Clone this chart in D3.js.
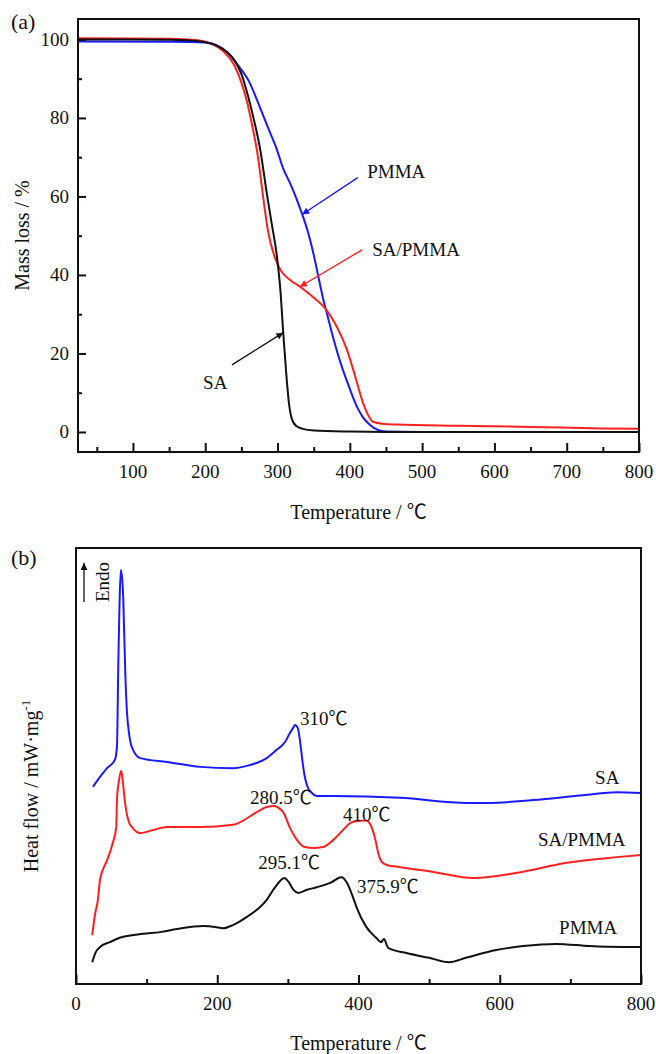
<!DOCTYPE html>
<html>
<head>
<meta charset="utf-8">
<script src="https://cdn.jsdelivr.net/npm/d3@7"></script>
<style>
  html, body { margin: 0; padding: 0; background: #fff; }
  svg text { font-family: "Liberation Serif", "Times New Roman", "Noto Sans CJK SC", serif; fill: #111; }
</style>
</head>
<body>
<svg id="fig" width="656" height="1054"></svg>
<script>
// ---------- (a) TG: mass loss (%) vs temperature (°C) ----------
const tgSA = [[24,100],[100,100],[150,99.9],[180,99.7],[200,99.3],[215,98.5],[230,96.8],[240,94.8],[250,91.2],[260,85],[268,79],[276,72],[285,61],[292,53],[299,45],[304,36],[308,25],[312,15],[316,7],[320,3.2],[326,1.5],[335,0.8],[350,0.4],[400,0.1],[450,0],[800,0]];
const tgSAPMMA = [[24,100.3],[150,100.2],[190,99.8],[210,98.8],[225,97],[240,93.5],[250,89],[258,84],[265,78],[273,70],[280,60],[287,51],[296,44.6],[305,41],[317,38.8],[331,37],[349,34.4],[368,31],[382,26.8],[396,21],[410,12.5],[418,7.5],[424,4.8],[432,2.6],[445,2.1],[465,1.9],[550,1.6],[650,1.3],[750,0.9],[800,0.8]];
const tgPMMA = [[24,99.5],[150,99.4],[200,99.2],[215,98.6],[230,96.8],[245,93.5],[260,89.5],[275,83],[288,77],[299,72],[308,67],[317,63.5],[326,59.5],[335,55],[342,51],[349,46],[356,40],[363,34],[370,29],[377,24],[384,19.5],[391,15.5],[398,12],[404,9],[411,6],[418,3.8],[428,1.8],[438,0.6],[450,0.1],[500,0],[800,0]];

const tgXTicks = [100,200,300,400,500,600,700,800];
const tgXMinor = [50,150,250,350,450,550,650,750];
const tgYTicks = [0,20,40,60,80,100];
const tgYMinor = [10,30,50,70,90];

// ---------- (b) DSC: heat flow (arbitrary offset units) vs temperature ----------
const dscSA = [[24,45.2],[34,47.5],[44,49.5],[55,51.4],[58,54.4],[60,74.3],[63.7,95],[66.6,89.7],[68,81.9],[70,70.4],[72,62.8],[75,57.6],[79,54.4],[91,51.8],[129,50.9],[176,49.8],[222,49.5],[246,50.2],[270,51.8],[284,53.7],[296,55.5],[303,57.6],[308,58.9],[310,59.4],[314,58.7],[317,56],[320,52],[323,48.4],[327,45.6],[334,43.8],[341,43.1],[364,43.1],[459,42.7],[554,41.5],[582,41.5],[647,42.2],[718,43.3],[766,44.0],[800,43.8]];
const dscSAPMMA = [[23,11.2],[27,16],[31,19.3],[34,23.9],[44,28.4],[52,32.3],[57,36],[58,42.2],[61,46.8],[64,48.9],[66,46.8],[69,42.2],[74,37.6],[79,36],[86,34.9],[91,34.6],[109,35.3],[129,36],[176,36],[222,36.5],[261,39.9],[270,40.6],[280.5,40.8],[287,40.4],[294,39.2],[303,35.8],[313,33],[324,31.4],[336,31.2],[350,31.4],[364,33],[378,35.3],[388,36.9],[398,37.4],[410,37.5],[414,37.2],[419,35.8],[424,33],[428,30],[433,28],[440,27.3],[459,26.8],[506,25.7],[563,24.3],[625,25.5],[695,27.8],[766,29.1],[800,29.6]];
const dscPMMA = [[23,5.0],[28,7.3],[34,8.5],[48,9.6],[62,10.6],[95,11.5],[119,11.9],[143,12.6],[180,13.3],[197,13.1],[208,12.8],[222,13.5],[242,15.4],[261,17.7],[270,19.3],[282,22.2],[295.1,24.3],[301,23.4],[308,21.6],[315,20.9],[327,21.6],[341,22.2],[360,23.2],[375.9,24.5],[383,23.4],[392,20],[397,17.7],[411,13.1],[425,10.6],[432,9.6],[436,10.3],[442,8.3],[468,7.1],[500,6.0],[528,5.0],[552,6.0],[595,7.8],[633,8.7],[680,9.2],[727,8.7],[775,8.5],[800,8.5]];

const dscXTicks = [0,200,400,600,800];
const dscXMinor = [100,300,500,700];

// peak annotations in (b): label text, anchor temperature, anchor heat flow
const dscNotes = [
  {text: "310℃", t: 317, v: 59.4},
  {text: "280.5℃", t: 246.5, v: 41.3},
  {text: "410℃", t: 378, v: 37.4},
  {text: "295.1℃", t: 258, v: 26.4},
  {text: "375.9℃", t: 398, v: 20.9},
  {text: "SA", t: 735, v: 45.9},
  {text: "SA/PMMA", t: 654, v: 31.7},
  {text: "PMMA", t: 684, v: 11.5}
];

// curve callouts in (a): label position and arrow from/to
const tgNotes = [
  {text: "PMMA", t: 424, m: 64.8, from: [411, 64.8], to: [334, 55.4], color: "#1a1aff"},
  {text: "SA/PMMA", t: 431, m: 44.9, from: [417, 46.4], to: [331, 37], color: "#ff2020"},
  {text: "SA", t: 197, m: 11, from: [237, 17.1], to: [308, 25.3], color: "#111111"}
];

const BLUE = "#1a1aff", RED = "#ff2020", BLACK = "#111111";

const svg = d3.select("#fig");
const defs = svg.append("defs");
function marker(id, color) {
  defs.append("marker")
    .attr("id", id).attr("viewBox", "0 0 10 10")
    .attr("refX", 10).attr("refY", 5)
    .attr("markerWidth", 10).attr("markerHeight", 7)
    .attr("markerUnits", "userSpaceOnUse")
    .attr("orient", "auto")
    .append("path").attr("d", "M0,0 L10,5 L0,10 Z").attr("fill", color);
}
marker("arr-blue", BLUE); marker("arr-red", RED); marker("arr-black", BLACK);
const markerFor = {[BLUE]: "arr-blue", [RED]: "arr-red", [BLACK]: "arr-black", "#1a1aff": "arr-blue", "#ff2020": "arr-red", "#111111": "arr-black"};

function frame(g, x0, x1, y0, y1) {
  g.append("rect").attr("x", x0).attr("y", y0).attr("width", x1 - x0).attr("height", y1 - y0)
    .attr("fill", "none").attr("stroke", "#111").attr("stroke-width", 2);
}

// ================= Panel (a) =================
{
  const L = 78, R = 639, T = 19, B = 452;
  const x = d3.scaleLinear().domain([24, 800]).range([L, R]);
  const y = d3.scaleLinear().domain([-5.1, 105.2]).range([B, T]);
  const g = svg.append("g");

  const line = d3.line().x(d => x(d[0])).y(d => y(d[1])).curve(d3.curveMonotoneX);
  [[tgPMMA, BLUE], [tgSAPMMA, RED], [tgSA, BLACK]].forEach(([data, c]) => {
    g.append("path").datum(data).attr("d", line)
      .attr("fill", "none").attr("stroke", c).attr("stroke-width", 2);
  });

  // inward ticks
  const xa = d3.axisTop(x).tickValues(tgXTicks).tickSize(9).tickFormat("");
  g.append("g").attr("transform", `translate(0,${B})`).call(xa)
    .call(s => s.select(".domain").remove())
    .call(s => s.selectAll("line").attr("stroke", "#111").attr("stroke-width", 2));
  const xm = d3.axisTop(x).tickValues(tgXMinor).tickSize(5).tickFormat("");
  g.append("g").attr("transform", `translate(0,${B})`).call(xm)
    .call(s => s.select(".domain").remove())
    .call(s => s.selectAll("line").attr("stroke", "#111").attr("stroke-width", 2));
  const ya = d3.axisRight(y).tickValues(tgYTicks).tickSize(8).tickFormat("");
  g.append("g").attr("transform", `translate(${L},0)`).call(ya)
    .call(s => s.select(".domain").remove())
    .call(s => s.selectAll("line").attr("stroke", "#111").attr("stroke-width", 2));
  const ym = d3.axisRight(y).tickValues(tgYMinor).tickSize(4).tickFormat("");
  g.append("g").attr("transform", `translate(${L},0)`).call(ym)
    .call(s => s.select(".domain").remove())
    .call(s => s.selectAll("line").attr("stroke", "#111").attr("stroke-width", 2));

  frame(g, L, R, T, B);

  // tick labels
  g.selectAll(".xl").data(tgXTicks).join("text")
    .attr("x", d => x(d)).attr("y", B + 26).attr("text-anchor", "middle")
    .attr("font-size", 19).text(d => d);
  g.selectAll(".yl").data(tgYTicks).join("text")
    .attr("x", L - 9).attr("y", d => y(d) + 6.5).attr("text-anchor", "end")
    .attr("font-size", 19).text(d => d);

  g.append("text").attr("x", (L + R) / 2).attr("y", B + 67).attr("text-anchor", "middle")
    .attr("font-size", 20).text("Temperature / ℃");
  g.append("text").attr("transform", `translate(29,${(T + B) / 2}) rotate(-90)`)
    .attr("text-anchor", "middle").attr("font-size", 20).text("Mass loss / %");
  g.append("text").attr("x", 11).attr("y", 29).attr("font-size", 22).text("(a)");

  tgNotes.forEach(n => {
    g.append("line")
      .attr("x1", x(n.from[0])).attr("y1", y(n.from[1]))
      .attr("x2", x(n.to[0])).attr("y2", y(n.to[1]))
      .attr("stroke", n.color).attr("stroke-width", 1.4)
      .attr("marker-end", `url(#${markerFor[n.color]})`);
    g.append("text").attr("x", x(n.t)).attr("y", y(n.m)).attr("font-size", 19).text(n.text);
  });
}

// ================= Panel (b) =================
{
  const L = 76, R = 641, T = 548, B = 984;
  const x = d3.scaleLinear().domain([0, 800]).range([L, R]);
  const y = d3.scaleLinear().domain([0, 100]).range([B, T]);
  const g = svg.append("g");

  const line = d3.line().x(d => x(d[0])).y(d => y(d[1])).curve(d3.curveMonotoneX);
  [[dscSA, BLUE], [dscSAPMMA, RED], [dscPMMA, BLACK]].forEach(([data, c]) => {
    g.append("path").datum(data).attr("d", line)
      .attr("fill", "none").attr("stroke", c).attr("stroke-width", 2);
  });

  const xa = d3.axisTop(x).tickValues(dscXTicks).tickSize(9).tickFormat("");
  g.append("g").attr("transform", `translate(0,${B})`).call(xa)
    .call(s => s.select(".domain").remove())
    .call(s => s.selectAll("line").attr("stroke", "#111").attr("stroke-width", 2));
  const xm = d3.axisTop(x).tickValues(dscXMinor).tickSize(5).tickFormat("");
  g.append("g").attr("transform", `translate(0,${B})`).call(xm)
    .call(s => s.select(".domain").remove())
    .call(s => s.selectAll("line").attr("stroke", "#111").attr("stroke-width", 2));

  frame(g, L, R, T, B);

  g.selectAll(".xl").data(dscXTicks).join("text")
    .attr("x", d => x(d)).attr("y", B + 26).attr("text-anchor", "middle")
    .attr("font-size", 19).text(d => d);

  g.append("text").attr("x", (L + R) / 2).attr("y", B + 66).attr("text-anchor", "middle")
    .attr("font-size", 20).text("Temperature / ℃");

  const yl = g.append("text").attr("transform", `translate(38,786) rotate(-90)`)
    .attr("text-anchor", "middle").attr("font-size", 20);
  yl.append("tspan").text("Heat flow / mW·mg");
  yl.append("tspan").attr("dy", -8).attr("font-size", 13).text("-1");

  g.append("text").attr("x", 11).attr("y", 565).attr("font-size", 22).text("(b)");

  // endothermic direction marker
  g.append("line").attr("x1", L + 8).attr("y1", T + 54).attr("x2", L + 8).attr("y2", T + 15)
    .attr("stroke", "#111").attr("stroke-width", 1.3).attr("marker-end", "url(#arr-black)");
  g.append("text").attr("transform", `translate(${L + 33},${T + 34}) rotate(-90)`)
    .attr("text-anchor", "middle").attr("font-size", 19).text("Endo");

  dscNotes.forEach(n => {
    g.append("text").attr("x", x(n.t)).attr("y", y(n.v)).attr("font-size", 19).text(n.text);
  });
}
</script>
</body>
</html>
